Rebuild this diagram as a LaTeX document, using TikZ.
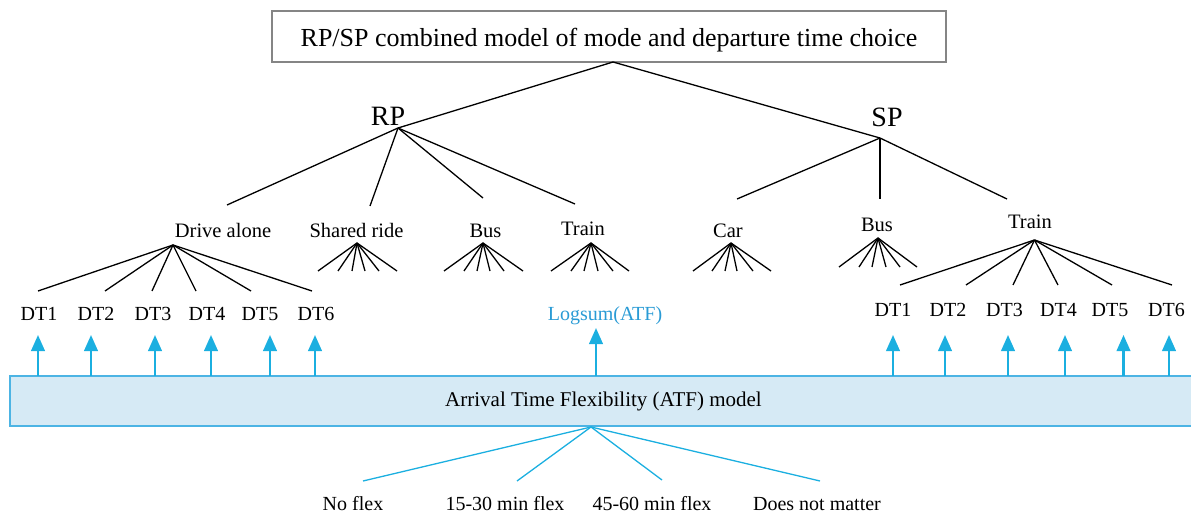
\documentclass[tikz,border=0pt]{standalone}
\usepackage{fontspec}
\setmainfont{Liberation Serif}
\usetikzlibrary{arrows.meta}
\definecolor{atfarrow}{HTML}{1BAFE0}
\definecolor{atftext}{HTML}{2A9BD5}
\definecolor{atffill}{HTML}{D6EAF5}
\definecolor{atfedge}{HTML}{4CB4E4}
\definecolor{boxgray}{HTML}{858585}
\begin{document}
\begin{tikzpicture}[x=1pt,y=-1pt,
  titlebox/.style={draw=boxgray, line width=2.5pt, minimum width=674pt, minimum height=51pt, inner sep=0pt},
  titletext/.style={anchor=base, inner sep=0pt, font=\fontsize{26}{30}\selectfont},
  toplbl/.style={anchor=base, inner sep=0pt, font=\fontsize{28}{32}\selectfont},
  modelbl/.style={anchor=base, inner sep=0pt, font=\fontsize{20.5}{24}\selectfont},
  dtlbl/.style={anchor=base, inner sep=0pt, font=\fontsize{20}{24}\selectfont},
  branch/.style={line width=1.3pt, black},
  atfbox/.style={fill=atffill, draw=atfedge, line width=1.3pt, minimum width=1187pt, minimum height=50pt, inner sep=0pt, font=\fontsize{21}{25}\selectfont},
  feed/.style={draw=atfarrow, line width=2.4pt, -{Triangle[width=13.5pt,length=16pt]}},
  flexline/.style={draw=atfarrow, line width=1.3pt},
]
\useasboundingbox (0,0) rectangle (1191,513);

% ---- root of the tree ----
\node[titlebox] (title) at (609,36.5) {};
\node[titletext] (titletxt) at (609,47) {RP/SP combined model of mode and departure time choice};
\coordinate (root) at (613,62);

% ---- RP / SP branches ----
\node[toplbl] (rp) at (388,126) {RP};
\node[toplbl] (sp) at (887,127) {SP};
\coordinate (rpj) at (398,128);
\coordinate (spj) at (880,138);
\draw[branch] (root) -- (rpj);
\draw[branch] (root) -- (spj);

% ---- RP modes ----
\node[modelbl] (rpda)  at (223,237) {Drive alone};
\node[modelbl] (rpsr)  at (356.5,237) {Shared ride};
\node[modelbl] (rpbus) at (485.5,237) {Bus};
\node[modelbl] (rptr)  at (583,236) {Train};
\coordinate (rpc1) at (227,205);
\coordinate (rpc2) at (370,206);
\coordinate (rpc3) at (483,198);
\coordinate (rpc4) at (575,204);
\foreach \i in {1,...,4} \draw[branch] (rpj) -- (rpc\i);

% ---- SP modes ----
\node[modelbl] (spcar) at (728,237) {Car};
\node[modelbl] (spbus) at (877,231) {Bus};
\node[modelbl] (sptr)  at (1030,229) {Train};
\coordinate (spc1) at (737,199);
\coordinate (spc2) at (880,199);
\coordinate (spc3) at (1007,199);
\foreach \i in {1,...,3} \draw[branch] (spj) -- (spc\i);

% ---- departure time fans ----
\coordinate (fda) at (173,245);
\foreach \x [count=\i] in {38,105,152,196,251,312} {
  \coordinate (fda\i) at (\x,291);
  \draw[branch] (fda) -- (fda\i);
}
\coordinate (fsr) at (357,243);
\foreach \x [count=\i] in {318,338,352,365,379,397} {
  \coordinate (fsr\i) at (\x,271);
  \draw[branch] (fsr) -- (fsr\i);
}
\coordinate (fbr) at (483,243);
\foreach \x [count=\i] in {444,464,477,490,504,523} {
  \coordinate (fbr\i) at (\x,271);
  \draw[branch] (fbr) -- (fbr\i);
}
\coordinate (ftr) at (591,243);
\foreach \x [count=\i] in {551,571,584,598,613,629} {
  \coordinate (ftr\i) at (\x,271);
  \draw[branch] (ftr) -- (ftr\i);
}
\coordinate (fcar) at (731,243);
\foreach \x [count=\i] in {693,712,725,737,753,771} {
  \coordinate (fcar\i) at (\x,271);
  \draw[branch] (fcar) -- (fcar\i);
}
\coordinate (fbs) at (878,238);
\foreach \x [count=\i] in {839,859,872,886,900,917} {
  \coordinate (fbs\i) at (\x,267);
  \draw[branch] (fbs) -- (fbs\i);
}
\coordinate (fts) at (1034.5,240);
\foreach \x [count=\i] in {900,966,1013,1058,1112,1172} {
  \coordinate (fts\i) at (\x,285);
  \draw[branch] (fts) -- (fts\i);
}

% ---- departure time labels ----
\foreach \x [count=\i] in {39,96,153,207,260,316}
  \node[dtlbl] (ldt\i) at (\x,320) {DT\i};
\foreach \x [count=\i] in {893,948,1004.5,1058.5,1110,1166.5}
  \node[dtlbl] (rdt\i) at (\x,316) {DT\i};
\node[dtlbl, text=atftext] (logsum) at (605,320) {Logsum(ATF)};

% ---- arrival time flexibility model ----
\node[atfbox] (atf) at (603.5,401) {Arrival Time Flexibility (ATF) model};

\foreach \x [count=\i] in {38,91,155,211,270,315} {
  \coordinate (la\i) at (\x,335);
  \draw[feed] (\x,375.5) -- (la\i);
}
\foreach \x [count=\i] in {893,945,1008,1065,1123.5,1169} {
  \coordinate (ra\i) at (\x,335);
  \draw[feed] (\x,375.5) -- (ra\i);
}
\coordinate (lsa) at (596,328);
\draw[feed] (596,375.5) -- (lsa);

% ---- flexibility categories ----
\coordinate (flex) at (591,427);
\node[dtlbl] (f1) at (353,510) {No flex};
\node[dtlbl] (f2) at (505,510) {15-30 min flex};
\node[dtlbl] (f3) at (652,510) {45-60 min flex};
\node[dtlbl] (f4) at (817,510) {Does not matter};
\coordinate (fe1) at (363,481);
\coordinate (fe2) at (517,481);
\coordinate (fe3) at (662,480);
\coordinate (fe4) at (820,481);
\foreach \i in {1,...,4} \draw[flexline] (flex) -- (fe\i);
\end{tikzpicture}
\end{document}
